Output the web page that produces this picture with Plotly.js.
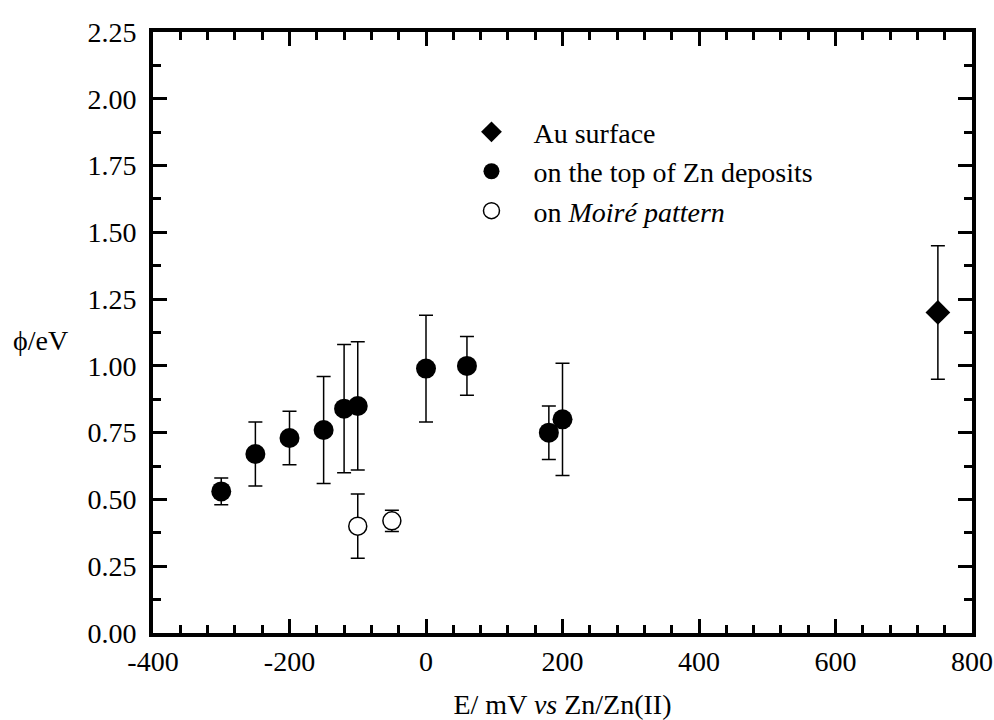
<!DOCTYPE html>
<html>
<head>
<meta charset="utf-8">
<script src="https://cdn.plot.ly/plotly-3.0.1.min.js"></script>
<style>html,body{margin:0;padding:0;background:#fff;}#chart{width:994px;height:720px;}</style>
</head>
<body>
<div id="chart"></div>
<script>
// Au surface
const auX = [750];
const auY = [1.20];
const auErr = [0.25];

// on the top of Zn deposits
const znX = [-300, -250, -200, -150, -120, -100, 0, 60, 180, 200];
const znY = [0.53, 0.67, 0.73, 0.76, 0.84, 0.85, 0.99, 1.00, 0.75, 0.80];
const znErr = [0.05, 0.12, 0.10, 0.20, 0.24, 0.24, 0.20, 0.11, 0.10, 0.21];

// on Moiré pattern
const moX = [-100, -50];
const moY = [0.40, 0.42];
const moErr = [0.12, 0.04];

const xTickVals = [-400, -200, 0, 200, 400, 600, 800];
const xTickText = ['-400', '-200', '0', '200', '400', '600', '800'];

const FONT = '"Liberation Serif", "Times New Roman", Times, serif';
const errStyle = {type: 'data', visible: true, color: '#000', thickness: 1.5, width: 7};

const traces = [
  {x: auX, y: auY, type: 'scatter', mode: 'markers', name: 'Au surface',
   marker: {symbol: 'diamond', size: 19, color: '#000'},
   error_y: Object.assign({array: auErr}, errStyle)},
  {x: znX, y: znY, type: 'scatter', mode: 'markers', name: 'on the top of Zn deposits',
   marker: {symbol: 'circle', size: 20, color: '#000'},
   error_y: Object.assign({array: znErr}, errStyle)},
  {x: moX, y: moY, type: 'scatter', mode: 'markers', name: 'on <i>Moiré pattern</i>',
   marker: {symbol: 'circle', size: 18, color: '#fff', line: {color: '#000', width: 1.5}},
   error_y: Object.assign({array: moErr}, errStyle)}
];

const axisCommon = {
  showline: true, linecolor: '#000', linewidth: 4, mirror: 'ticks',
  ticks: 'inside', ticklen: 14, tickwidth: 3, tickcolor: '#000',
  showgrid: false, zeroline: false,
  tickfont: {family: FONT, size: 28, color: '#000'}
};

const layout = {
  width: 994, height: 720,
  margin: {l: 153, r: 22, t: 32, b: 87},
  paper_bgcolor: '#fff', plot_bgcolor: '#fff',
  font: {family: FONT, size: 28, color: '#000'},
  showlegend: true,
  legend: {x: 0.362, y: 0.875, xanchor: 'left', yanchor: 'top',
           bgcolor: 'rgba(0,0,0,0)', borderwidth: 0, itemwidth: 74,
           font: {family: FONT, size: 28, color: '#000'}},
  xaxis: Object.assign({}, axisCommon, {
    range: [-400, 800], tickmode: 'array', tickvals: xTickVals, ticktext: xTickText,
    minor: {tickmode: 'linear', tick0: -400, dtick: 40, ticks: 'inside', ticklen: 8, tickwidth: 3, tickcolor: '#000', showgrid: false},
    title: {text: 'E/ mV <i>vs</i> Zn/Zn(II)', font: {family: FONT, size: 28, color: '#000'}, standoff: 22}
  }),
  yaxis: Object.assign({}, axisCommon, {
    range: [0, 2.25], tickmode: 'linear', tick0: 0, dtick: 0.25, tickformat: '.2f',
    ticklabelstandoff: 7,
    minor: {tickmode: 'linear', tick0: 0, dtick: 0.125, ticks: 'inside', ticklen: 8, tickwidth: 3, tickcolor: '#000', showgrid: false}
  }),
  annotations: [{
    text: '\u03D5/eV', xref: 'paper', yref: 'paper', x: -0.137, y: 0.4875,
    xanchor: 'center', yanchor: 'middle', showarrow: false,
    font: {family: FONT, size: 28, color: '#000'}
  }]
};

Plotly.newPlot('chart', traces, layout, {displayModeBar: false, staticPlot: true});
</script>
</body>
</html>
